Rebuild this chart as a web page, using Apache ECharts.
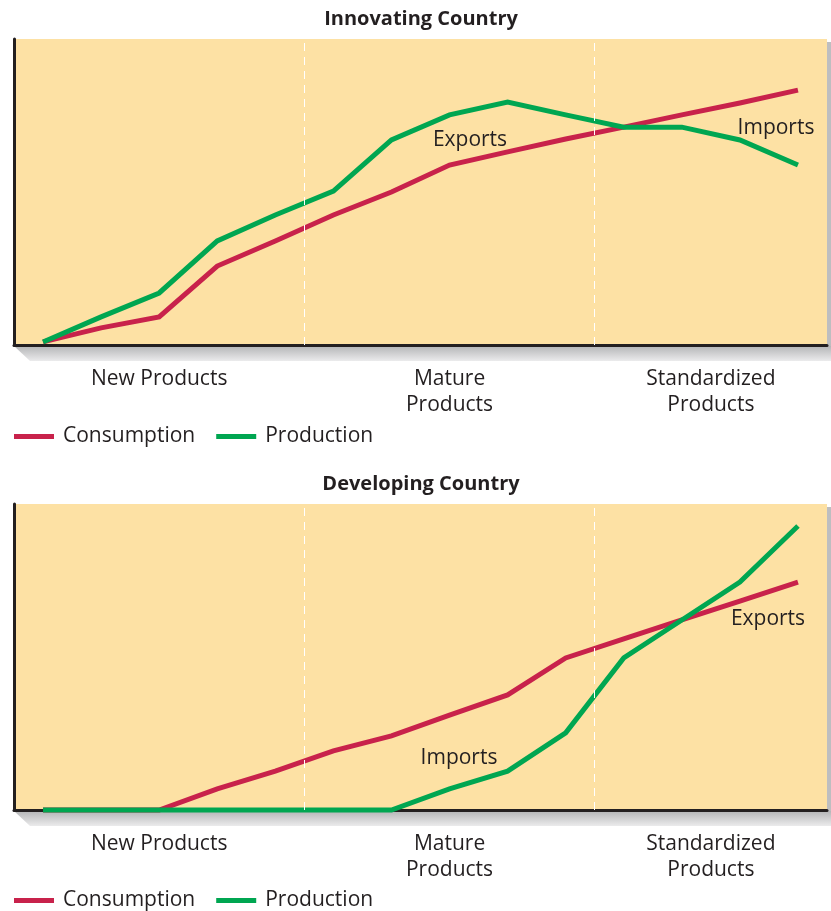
<!DOCTYPE html>
<html>
<head>
<meta charset="utf-8">
<script src="https://cdn.jsdelivr.net/npm/echarts@6/dist/echarts.min.js"></script>
<style>
  html, body { margin: 0; padding: 0; background: #ffffff; }
  #chart { width: 831px; height: 911px; }
</style>
</head>
<body>
<div id="chart"></div>
<script>
// Product life cycle: 14 periods, split into three phases
const periods = 14;
const phaseBreaks = [5, 10];
const stageTicks = [2.5, 7.5, 12];
const stageLabels = ['New Products', 'Mature\nProducts', 'Standardized\nProducts'];
const seriesNames = ['Consumption', 'Production'];

// Innovating country (index values, 0–100)
const innovConsumption = [1, 5.6, 9.2, 25.8, 34.0, 42.5, 50.0, 58.8, 63.1, 67.3, 71.2, 75.2, 79.1, 83.3];
const innovProduction  = [1, 9.2, 17.0, 34.0, 42.5, 50.3, 67.0, 75.2, 79.4, 75.2, 71.2, 71.2, 67.0, 58.8];

// Developing country (index values, 0–100)
const devConsumption = [0, 0, 0, 6.9, 12.7, 19.3, 24.2, 31.0, 37.6, 49.7, 55.9, 62.1, 68.3, 74.5];
const devProduction  = [0, 0, 0, 0, 0, 0, 0, 6.9, 12.7, 25.2, 49.7, 62.1, 74.5, 92.8];

const RED = '#C8224B';
const GREEN = '#00A651';
const BG = '#FDE1A4';
const INK = '#231F20';
const FONT = 'Open Sans';
const TEXT_SIZE = 21;

const chart = echarts.init(document.getElementById('chart'));

const toPoints = arr => arr.map((v, i) => [i + 0.5, v]);

function makeSeries(name, color, values, idx) {
  return {
    name: name,
    type: 'line',
    xAxisIndex: idx,
    yAxisIndex: idx,
    data: toPoints(values),
    color: color,
    symbol: 'none',
    clip: false,
    lineStyle: { color: color, width: 5, join: 'miter' },
    z: 3
  };
}

function phaseLines(idx) {
  return {
    type: 'line',
    xAxisIndex: idx,
    yAxisIndex: idx,
    data: [],
    silent: true,
    markLine: {
      symbol: 'none',
      silent: true,
      label: { show: false },
      lineStyle: { color: '#ffffff', type: [8, 6], width: 1 },
      data: phaseBreaks.map(x => ({ xAxis: x }))
    },
    z: 1
  };
}

function xAxis(idx) {
  return {
    type: 'value',
    gridIndex: idx,
    min: 0,
    max: periods,
    splitLine: { show: false },
    axisTick: { show: false },
    axisLine: { show: true, lineStyle: { color: INK, width: 3 } },
    axisLabel: {
      customValues: stageTicks,
      formatter: v => stageLabels[stageTicks.indexOf(v)] || '',
      color: INK,
      fontFamily: FONT,
      fontSize: TEXT_SIZE,
      lineHeight: 26,
      margin: 21,
      align: 'center'
    }
  };
}

function yAxis(idx) {
  return {
    type: 'value',
    gridIndex: idx,
    min: 0,
    max: 100,
    splitLine: { show: false },
    axisTick: { show: false },
    axisLabel: { show: false },
    axisLine: { show: true, onZero: false, lineStyle: { color: INK, width: 3 } }
  };
}

function legend(top) {
  return {
    left: 14,
    top: top,
    padding: 0,
    icon: 'rect',
    itemWidth: 40,
    itemHeight: 5,
    itemGap: 21,
    data: seriesNames,
    textStyle: { color: INK, fontFamily: FONT, fontSize: TEXT_SIZE, padding: [0, 0, 0, 4] }
  };
}

// Grey "floor" and "wall" giving each panel a raised look
function panelShadow(top, bottom) {
  return [
    {
      type: 'polygon',
      silent: true,
      z: -1,
      shape: { points: [[14, bottom + 1], [831, bottom + 1], [831, bottom + 16], [30, bottom + 16]] },
      style: {
        fill: new echarts.graphic.LinearGradient(0, 0, 0, 1, [
          { offset: 0, color: '#b4b5b7' },
          { offset: 1, color: '#ebebec' }
        ])
      }
    },
    {
      type: 'rect',
      silent: true,
      z: -1,
      shape: { x: 827, y: top + 3, width: 4, height: bottom - top - 2 },
      style: { fill: '#bdbec0' }
    }
  ];
}

function note(text, x, y) {
  return {
    type: 'text',
    x: x,
    y: y,
    z: 10,
    silent: true,
    style: {
      text: text,
      fill: INK,
      font: TEXT_SIZE + 'px "' + FONT + '"',
      align: 'center',
      verticalAlign: 'middle'
    }
  };
}

chart.setOption({
  animation: false,
  title: [
    {
      text: 'Innovating Country',
      left: 416, top: 4, textAlign: 'center',
      textStyle: { color: INK, fontFamily: FONT, fontWeight: 'bold', fontSize: 20 }
    },
    {
      text: 'Developing Country',
      left: 416, top: 469, textAlign: 'center',
      textStyle: { color: INK, fontFamily: FONT, fontWeight: 'bold', fontSize: 20 }
    }
  ],
  legend: [legend(426), legend(890)],
  grid: [
    { left: 14, right: 4, top: 39, height: 306, show: true, backgroundColor: BG, borderWidth: 0 },
    { left: 14, right: 4, top: 504, height: 306, show: true, backgroundColor: BG, borderWidth: 0 }
  ],
  xAxis: [xAxis(0), xAxis(1)],
  yAxis: [yAxis(0), yAxis(1)],
  series: [
    phaseLines(0),
    phaseLines(1),
    makeSeries(seriesNames[0], RED, innovConsumption, 0),
    makeSeries(seriesNames[1], GREEN, innovProduction, 0),
    makeSeries(seriesNames[0], RED, devConsumption, 1),
    makeSeries(seriesNames[1], GREEN, devProduction, 1)
  ],
  graphic: [
    ...panelShadow(39, 345),
    ...panelShadow(504, 810),
    note('Exports', 470, 140),
    note('Imports', 776, 128),
    note('Exports', 768, 619),
    note('Imports', 459, 758)
  ]
});
</script>
</body>
</html>
